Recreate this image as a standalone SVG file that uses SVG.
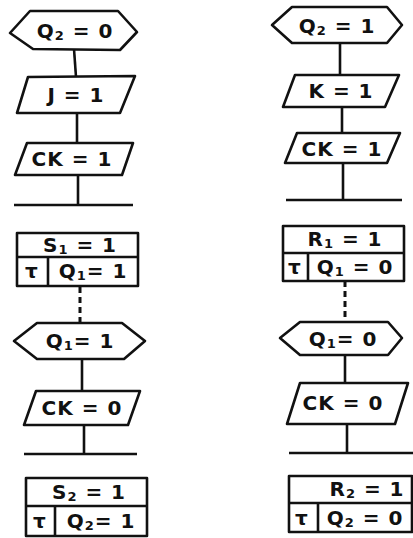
<svg xmlns="http://www.w3.org/2000/svg" width="413" height="538" viewBox="0 0 413 538">
<style>
.s{fill:#fff;stroke:#111;stroke-width:2.6;stroke-linejoin:round}
.c{fill:none;stroke:#111;stroke-width:2.6}
.d{fill:none;stroke:#111;stroke-width:3;stroke-dasharray:6,4}
text{font-family:"DejaVu Sans","Liberation Sans",sans-serif;font-weight:bold;font-size:20px;letter-spacing:1px;fill:#111;text-anchor:middle;dominant-baseline:central}
.sub{font-size:13px}
</style>
<rect width="413" height="538" fill="#fff"/>
<g id="connectors">
<line class="c" x1="74" y1="49" x2="76" y2="77"/>
<line class="c" x1="77" y1="113" x2="77" y2="143"/>
<line class="c" x1="78" y1="175" x2="78" y2="205"/>
<line class="c" x1="14" y1="205" x2="133" y2="205"/>
<line class="d" x1="80" y1="287" x2="80" y2="323"/>
<line class="c" x1="82" y1="359" x2="82" y2="391"/>
<line class="c" x1="84" y1="425" x2="84" y2="454"/>
<line class="c" x1="24" y1="454" x2="137" y2="454"/>
<line class="c" x1="340" y1="43" x2="340" y2="75"/>
<line class="c" x1="342" y1="107" x2="342" y2="133"/>
<line class="c" x1="343" y1="163" x2="343" y2="200"/>
<line class="c" x1="286" y1="200" x2="402" y2="200"/>
<line class="d" x1="345" y1="281" x2="345" y2="321"/>
<line class="c" x1="345" y1="355" x2="345" y2="383"/>
<line class="c" x1="347" y1="424" x2="347" y2="453"/>
<line class="c" x1="289" y1="453" x2="413" y2="453"/>
</g>
<g id="hexQ2eq0">
<polygon class="s" points="10,33 30,11 118,11 137,32 120,50 33,49"/>
<text x="75" y="31">Q<tspan class="sub" dy="4">2</tspan><tspan dy="-4"> = 0</tspan></text>
</g>
<g id="parJ1">
<polygon class="s" points="28,77 135,76 120,113 17,113"/>
<text x="76" y="95">J = 1</text>
</g>
<g id="parCK1L">
<polygon class="s" points="27,143 133,143 122,175 15,175"/>
<text x="72" y="159">CK = 1</text>
</g>
<g id="boxS1">
<rect class="s" x="17" y="233" width="121" height="53"/>
<line class="c" x1="17" y1="257" x2="138" y2="257"/>
<line class="c" x1="48" y1="257" x2="48" y2="286"/>
<text x="80" y="245">S<tspan class="sub" dy="4">1</tspan><tspan dy="-4"> = 1</tspan></text>
<text x="32" y="271">τ</text>
<text x="93" y="271">Q<tspan class="sub" dy="4">1</tspan><tspan dy="-4">= 1</tspan></text>
</g>
<g id="hexQ1eq1">
<polygon class="s" points="14,341 37,323 122,323 145,341 124,359 37,359"/>
<text x="80" y="341">Q<tspan class="sub" dy="4">1</tspan><tspan dy="-4">= 1</tspan></text>
</g>
<g id="parCK0L">
<polygon class="s" points="36,391 140,391 128,425 24,425"/>
<text x="82" y="408">CK = 0</text>
</g>
<g id="boxS2">
<rect class="s" x="26" y="478" width="121" height="58"/>
<line class="c" x1="26" y1="506" x2="147" y2="506"/>
<line class="c" x1="55" y1="506" x2="55" y2="536"/>
<text x="89" y="492">S<tspan class="sub" dy="4">2</tspan><tspan dy="-4"> = 1</tspan></text>
<text x="40" y="521">τ</text>
<text x="101" y="521">Q<tspan class="sub" dy="4">2</tspan><tspan dy="-4">= 1</tspan></text>
</g>
<g id="hexQ2eq1">
<polygon class="s" points="272,25 292,7 387,7 402,25 387,43 292,43"/>
<text x="337" y="26">Q<tspan class="sub" dy="4">2</tspan><tspan dy="-4"> = 1</tspan></text>
</g>
<g id="parK1">
<polygon class="s" points="295,75 399,75 385,107 283,107"/>
<text x="341" y="91">K = 1</text>
</g>
<g id="parCK1R">
<polygon class="s" points="297,133 400,133 387,163 285,163"/>
<text x="342" y="149">CK = 1</text>
</g>
<g id="boxR1">
<rect class="s" x="283" y="226" width="121" height="55"/>
<line class="c" x1="283" y1="253" x2="404" y2="253"/>
<line class="c" x1="308" y1="253" x2="308" y2="281"/>
<text x="345" y="239">R<tspan class="sub" dy="4">1</tspan><tspan dy="-4"> = 1</tspan></text>
<text x="295" y="267">τ</text>
<text x="355" y="267">Q<tspan class="sub" dy="4">1</tspan><tspan dy="-4"> = 0</tspan></text>
</g>
<g id="hexQ1eq0">
<polygon class="s" points="280,338 300,322 388,322 402,338 388,355 300,355"/>
<text x="343" y="339">Q<tspan class="sub" dy="4">1</tspan><tspan dy="-4">= 0</tspan></text>
</g>
<g id="parCK0R">
<polygon class="s" points="300,383 408,383 395,424 287,424"/>
<text x="343" y="403">CK = 0</text>
</g>
<g id="boxR2">
<rect class="s" x="289" y="476" width="123" height="56"/>
<line class="c" x1="289" y1="503" x2="412" y2="503"/>
<line class="c" x1="318" y1="503" x2="318" y2="532"/>
<text x="367" y="489">R<tspan class="sub" dy="4">2</tspan><tspan dy="-4"> = 1</tspan></text>
<text x="302" y="518">τ</text>
<text x="365" y="518">Q<tspan class="sub" dy="4">2</tspan><tspan dy="-4"> = 0</tspan></text>
</g>
</svg>
